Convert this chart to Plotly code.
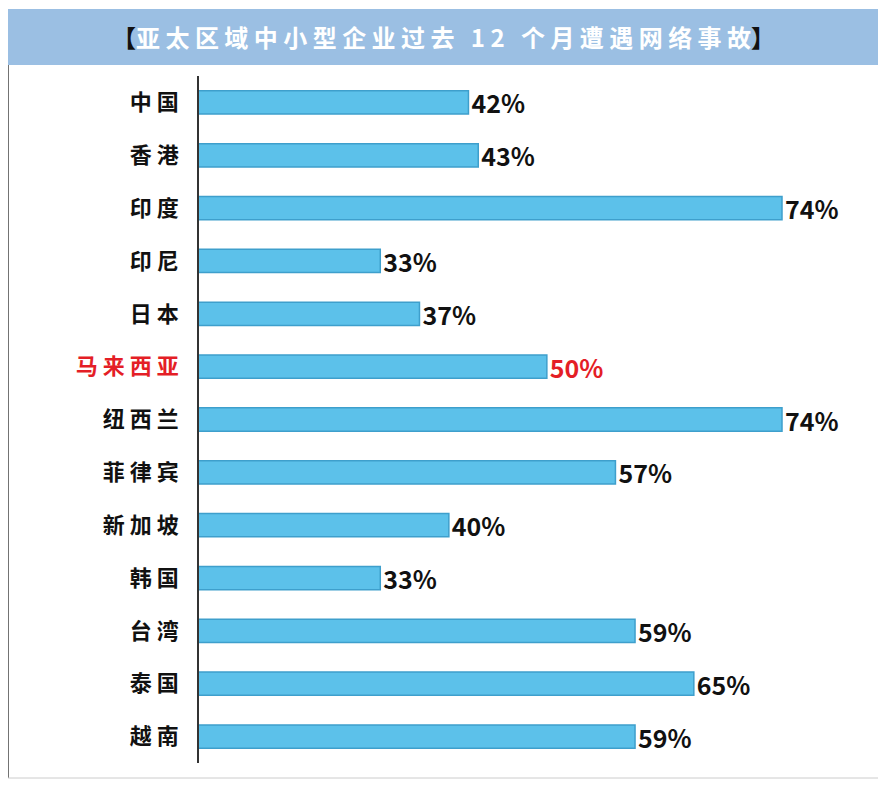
import plotly.graph_objects as go

categories = ["中国","香港","印度","印尼","日本","马来西亚","纽西兰","菲律宾","新加坡","韩国","台湾","泰国","越南"]
values = [42,43,74,33,37,50,74,57,40,33,59,65,59]
highlight = "马来西亚"

W, H = 886, 785
OFF = 8
def px_x(v): return (v - OFF) / W
def px_y(v): return 1 - (v - OFF) / H

colors_txt = ["#e41e26" if c == highlight else "#111111" for c in categories]
ticktext = [f"<span style='color:{col}'>{'&nbsp;'.join(list(c))}</span>" for c, col in zip(categories, colors_txt)]

fig = go.Figure(go.Bar(
    y=categories, x=values, orientation="h", width=0.44,
    marker=dict(color="#5cc1ea", line=dict(color="#3e9fcc", width=1.5)),
    text=[f"{v}%" for v in values], textposition="outside", constraintext="none",
    textfont=dict(family="Noto Sans CJK SC", size=25, color=colors_txt, weight="bold"),
    cliponaxis=False,
))

fig.update_layout(
    width=W, height=H, margin=dict(l=0, r=0, t=0, b=0),
    paper_bgcolor="white", plot_bgcolor="white", showlegend=False,
    xaxis=dict(domain=[px_x(199), px_x(880)], range=[14.5, 84], visible=False),
    yaxis=dict(domain=[px_y(763), px_y(76)], autorange=False, range=[12.5, -0.5],
               categoryorder="array", categoryarray=categories,
               tickmode="array", tickvals=categories, ticktext=ticktext,
               tickfont=dict(family="Noto Sans CJK SC", size=22, color="#111111", weight="bold"),
               ticks="", ticklabelstandoff=14,
               showline=True, linecolor="#333333", linewidth=1.5, showgrid=False),
    font=dict(family="Noto Sans CJK SC"),
    uniformtext=dict(mode=False),
)

fig.add_shape(type="rect", xref="paper", yref="paper", x0=px_x(7), x1=px_x(880), y0=px_y(65), y1=px_y(9),
              fillcolor="#9bbfe3", line=dict(width=0), layer="below")
fig.add_shape(type="line", xref="paper", yref="paper", x0=px_x(8), x1=px_x(8), y0=px_y(778), y1=px_y(65),
              line=dict(color="#444444", width=1.5))
fig.add_shape(type="line", xref="paper", yref="paper", x0=px_x(8), x1=px_x(880), y0=px_y(778), y1=px_y(778),
              line=dict(color="#cccccc", width=1))

title = "亚太区域中小型企业过去 12 个月遭遇网络事故"
fig.add_annotation(xref="paper", yref="paper", x=px_x(443), y=px_y(37), xanchor="center", yanchor="middle",
                   showarrow=False,
                   text="<span style='color:#111'>【</span>" + "<span style='color:white'>" + "&nbsp;".join(list(title)) + "</span>" + "<span style='color:#111'>】</span>",
                   font=dict(family="Noto Sans CJK SC", size=24, weight="bold"))

fig.write_html("out.html")
